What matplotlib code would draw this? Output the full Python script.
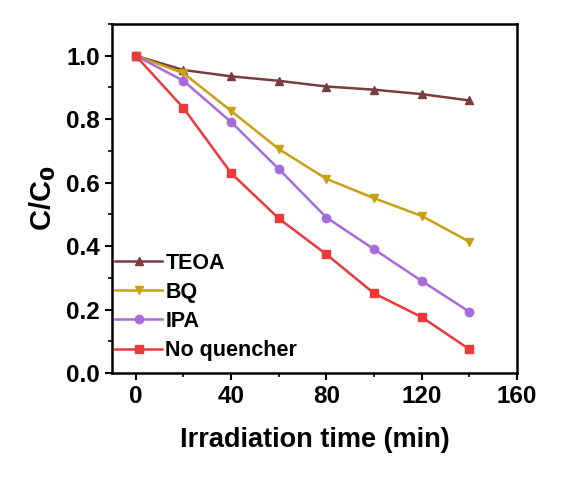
import matplotlib
matplotlib.use("Agg")
import matplotlib.pyplot as plt
from matplotlib.ticker import MultipleLocator

plt.rcParams['font.family'] = ['Liberation Sans', 'DejaVu Sans']
plt.rcParams['font.weight'] = 'bold'

time = [0, 20, 40, 60, 80, 100, 120, 140]
teoa = [1.0, 0.955, 0.935, 0.921, 0.903, 0.893, 0.879, 0.859]
bq = [1.0, 0.945, 0.826, 0.706, 0.612, 0.551, 0.495, 0.414]
ipa = [1.0, 0.921, 0.791, 0.643, 0.490, 0.390, 0.290, 0.193]
noq = [1.0, 0.835, 0.630, 0.487, 0.374, 0.251, 0.176, 0.075]

series = [
    ("TEOA", teoa, "#7A3C3E", "^"),
    ("BQ", bq, "#C9A012", "v"),
    ("IPA", ipa, "#A86BDA", "o"),
    ("No quencher", noq, "#EA3A3C", "s"),
]

fig = plt.figure(figsize=(5.85, 5.03), dpi=100)
ax = fig.add_axes([112/585, 1 - 373/503, (517-112)/585, (373-24)/503])

for name, vals, col, mk in series:
    ax.plot(time, vals, color=col, marker=mk, markersize=6, linewidth=1.8, label=name)

ax.set_xlim(-10, 160)
ax.set_ylim(0, 1.1)
ax.xaxis.set_major_locator(MultipleLocator(40))
ax.xaxis.set_minor_locator(MultipleLocator(20))
ax.yaxis.set_major_locator(MultipleLocator(0.2))
ax.yaxis.set_minor_locator(MultipleLocator(0.1))
ax.set_yticks([0.0, 0.2, 0.4, 0.6, 0.8, 1.0])
ax.set_yticklabels(["0.0", "0.2", "0.4", "0.6", "0.8", "1.0"])
ax.tick_params(which='major', direction='out', length=5, width=1.5, labelsize=17.5)
ax.tick_params(which='minor', direction='out', length=3, width=1.2)
for sp in ax.spines.values():
    sp.set_linewidth(1.8)
for lab in ax.get_xticklabels() + ax.get_yticklabels():
    lab.set_fontweight('bold')

ax.set_xlabel("Irradiation time (min)", fontsize=19.5, fontweight='bold', labelpad=14)
ax.set_ylabel("C/C$_\\mathbf{0}$", fontsize=21, fontweight='bold', labelpad=6)

leg = ax.legend(loc='lower left', bbox_to_anchor=(0.007, 0.034), frameon=False,
                fontsize=15.5, handlelength=2.2, handletextpad=0.15,
                labelspacing=0.38, borderaxespad=0.0, borderpad=0.0)
for t in leg.get_texts():
    t.set_fontweight('bold')

fig.savefig("out.png", dpi=100)
